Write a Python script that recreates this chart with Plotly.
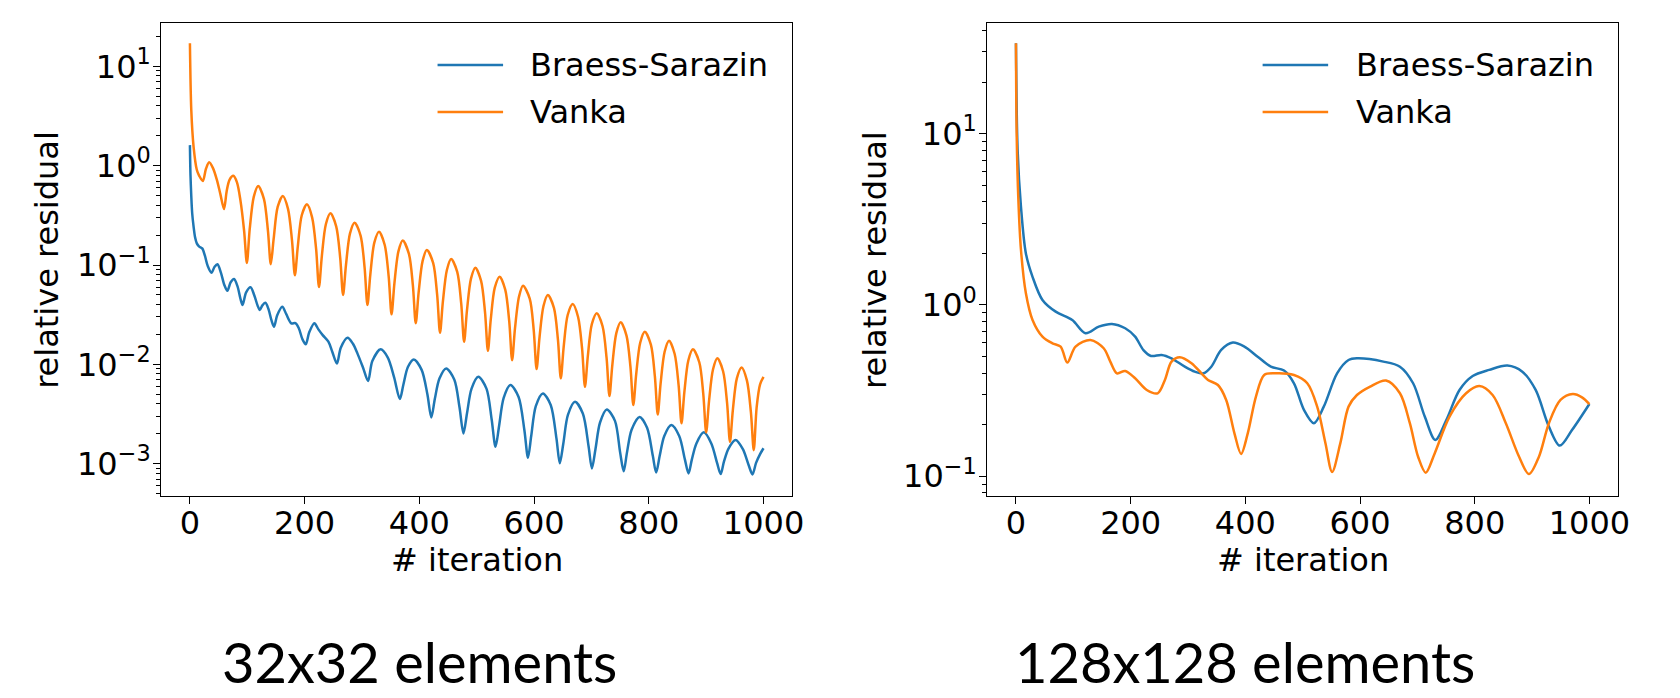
import plotly.graph_objects as go

# ---------------- data ----------------
series_names = ["Braess-Sarazin", "Vanka"]
series_colors = ["#1f77b4", "#ff7f0e"]
panel_titles = ["32x32 elements", "128x128 elements"]

# 32x32 elements : Braess-Sarazin
iter_bs_32 = [0, 1, 2.4, 4, 6.4, 9, 12, 16.2, 21.4, 26, 31, 37.6, 43, 48, 54, 60, 65.3, 71, 76.9, 83,
              88, 91.8, 98, 105.7, 112, 118, 121.9, 126, 131.6, 137, 142, 146.7, 152, 161, 168, 176.7,
              184, 190, 196, 202, 208, 217, 224, 231.5, 241.4, 248, 256.3, 263, 274.8, 284, 292, 302,
              310.6, 318, 332.5, 345, 356, 366,
              372, 380, 390.3, 404, 414, 420.8,
              427, 435, 446.8, 461, 470, 476.9,
              483, 491, 502.8, 517, 526, 532.8,
              539, 547, 558.8, 573, 583, 589.4,
              595, 603, 615.4, 629, 639, 644.8,
              651, 659, 671.3, 685, 695, 700.8,
              707, 715, 726.8, 741, 750, 756.2,
              762, 770, 783.9, 797, 807, 812.8,
              819, 827, 839.3, 853, 863, 869.3,
              875, 883, 895.9, 909, 919, 925.3,
              931, 939, 951.3, 964, 974, 980.8,
              987, 994, 1000]
res_bs_32 = [1.61, 0.8, 0.49, 0.33, 0.243, 0.19, 0.165, 0.153, 0.147, 0.125, 0.098, 0.0836, 0.096, 0.1016,
             0.084, 0.063, 0.055, 0.067, 0.0723, 0.061, 0.046, 0.0396, 0.053, 0.0596, 0.050, 0.039, 0.0352,
             0.039, 0.0417, 0.036, 0.028, 0.0239, 0.031, 0.038, 0.032, 0.0259, 0.026, 0.023, 0.018, 0.0159,
             0.021, 0.0259, 0.0225, 0.0197, 0.0169, 0.0135, 0.0102, 0.0147, 0.0185, 0.0162, 0.0129, 0.0092,
             0.0068, 0.0108, 0.01416, 0.0117, 0.0074, 0.00448,
             0.0062, 0.0094, 0.0112, 0.0088, 0.0050, 0.00292,
             0.0045, 0.0072, 0.0091, 0.0070, 0.0037, 0.00202,
             0.0032, 0.0057, 0.0075, 0.0057, 0.0028, 0.00148,
             0.0024, 0.0046, 0.0062, 0.0047, 0.0022, 0.00115,
             0.0019, 0.0038, 0.0051, 0.0039, 0.0018, 0.00101,
             0.0016, 0.0031, 0.0042, 0.0032, 0.0015, 0.000897,
             0.0014, 0.0026, 0.00352, 0.0027, 0.0013, 0.00084,
             0.0013, 0.0022, 0.00296, 0.0023, 0.0012, 0.000816,
             0.0012, 0.0019, 0.00245, 0.0019, 0.0011, 0.000798,
             0.0011, 0.0016, 0.00207, 0.0016, 0.00102, 0.000786,
             0.00105, 0.00142, 0.00173, 0.0014, 0.00097, 0.00078,
             0.00102, 0.00125, 0.00143]

# 32x32 elements : Vanka
iter_vk_32 = [0, 2.4, 6.4, 12, 16.2, 22.5, 28, 33.5, 40, 47, 53, 59.5, 64, 69, 75.7, 82, 88, 94.5, 99.3,
              104.3, 111.3, 119, 129, 136, 141,
              146, 153, 162, 171, 178, 183,
              188, 195, 204, 213, 220, 225,
              230, 237, 245, 255, 262, 267,
              272, 279, 287, 297.5, 304.5, 309.5,
              314.5, 321.5, 329.7, 339.5, 346.5, 351.5,
              356.5, 363.5, 371, 381.7, 388.7, 393.7,
              398.7, 405.7, 413, 424, 431, 436,
              441, 448, 455.4, 466, 473, 478,
              483, 490, 497.6, 507.5, 514.5, 519.5,
              524.5, 531.5, 540, 549.7, 556.7, 561.7,
              566.7, 573.7, 580.7, 592.4, 599.4, 604.4,
              609.4, 616.4, 624, 634.6, 641.6, 646.6,
              651.6, 658.6, 667.4, 676.7, 683.7, 688.7,
              693.7, 700.7, 709.4, 719.4, 726.4, 731.4,
              736.4, 743.4, 751, 761, 768, 773,
              778, 785, 793, 803.6, 810.6, 815.6,
              820.6, 827.6, 835.3, 845, 852, 857,
              862, 869, 876.9, 888, 895, 900,
              905, 912, 919.5, 929.5, 936.5, 941.5,
              946.5, 953.5, 961.7, 971, 978, 983,
              988, 994, 1000]
res_vk_32 = [17.1, 3.6, 1.55, 0.91, 0.79, 0.70, 0.93, 1.08, 0.95, 0.72, 0.52, 0.366, 0.55, 0.72, 0.79, 0.68,
             0.45, 0.22, 0.105,
             0.232, 0.485, 0.625, 0.463, 0.222, 0.102,
             0.184, 0.384, 0.495, 0.367, 0.176, 0.079,
             0.152, 0.317, 0.408, 0.302, 0.145, 0.060,
             0.123, 0.257, 0.331, 0.245, 0.118, 0.0499,
             0.0992, 0.207, 0.267, 0.198, 0.0948, 0.0396,
             0.0802, 0.168, 0.216, 0.160, 0.0767, 0.0319,
             0.0654, 0.137, 0.176, 0.130, 0.0625, 0.0259,
             0.0526, 0.110, 0.1416, 0.105, 0.0503, 0.0208,
             0.0427, 0.0892, 0.115, 0.0852, 0.0408, 0.0169,
             0.0349, 0.0729, 0.094, 0.0697, 0.0334, 0.0137,
             0.0283, 0.0591, 0.0762, 0.0565, 0.0271, 0.0110,
             0.0230, 0.0480, 0.0619, 0.0459, 0.0220, 0.00897,
             0.0185, 0.0387, 0.0499, 0.0370, 0.0177, 0.00723,
             0.0150, 0.0314, 0.0405, 0.0300, 0.0144, 0.00595,
             0.0121, 0.0254, 0.0327, 0.0242, 0.0116, 0.00480,
             0.00984, 0.0206, 0.0265, 0.0196, 0.00941, 0.00389,
             0.00791, 0.0165, 0.0213, 0.0158, 0.00756, 0.00313,
             0.00643, 0.0134, 0.0173, 0.0128, 0.00614, 0.00255,
             0.00526, 0.0110, 0.01416, 0.0105, 0.00503, 0.00207,
             0.00427, 0.00892, 0.0115, 0.00852, 0.00408, 0.00166,
             0.00345, 0.00722, 0.0093, 0.00689, 0.0033, 0.00137,
             0.0037, 0.0063, 0.0075]

# 128x128 elements : Braess-Sarazin
iter_bs_128 = [0, 2.9, 8.7, 17.3, 28.9, 46.2, 69.3, 98.2, 121.2, 144.4, 167.4, 190.5, 207.8, 222.3, 235.5,
               254, 271.3, 294.4, 311.7, 327.3, 340.6, 357.9, 378.2, 398.3, 421.5, 444.5, 467.5, 484.8,
               502.2, 519.5, 536.8, 560, 580, 594.6, 640.7, 669.6, 692.6, 712.9, 731.4, 750.5, 773.5,
               796.5, 825.4, 857.1, 883.1, 906.3, 929.4, 948.4, 969.7, 1000]
res_bs_128 = [33.7, 8.0, 3.75, 2.0, 1.46, 1.07, 0.914, 0.817, 0.684, 0.747, 0.775, 0.731, 0.653, 0.545,
              0.504, 0.511, 0.488, 0.436, 0.408, 0.399, 0.436, 0.546, 0.603, 0.571, 0.499, 0.436, 0.414,
              0.349, 0.244, 0.204, 0.255, 0.399, 0.477, 0.488, 0.467, 0.436, 0.349, 0.223, 0.163, 0.213,
              0.319, 0.385, 0.418, 0.443, 0.408, 0.319, 0.195, 0.151, 0.186, 0.264]

# 128x128 elements : Vanka
iter_vk_128 = [0, 1.2, 4.2, 8.7, 17.3, 28.9, 46.2, 63.6, 77.9, 89.5, 103.9, 129.9, 153, 164.5, 176.1,
               190.5, 207.8, 228.1, 247.1, 259.7, 271.3, 285.7, 306.1, 323.4, 334.9, 352.2, 366.6, 381,
               392.6, 404.2, 418.5, 432.9, 450.2, 484.8, 508, 525.3, 539.7, 551.3, 565.7, 580, 594.6,
               617.7, 645.4, 669.6, 686.9, 701.3, 714.6, 730.2, 756.1, 785, 808.1, 831.2, 854.3, 877.4,
               894.7, 912, 929.4, 949.6, 971, 987.1, 1000]
res_vk_128 = [33.7, 10, 4.1, 2.1, 1.17, 0.817, 0.653, 0.597, 0.571, 0.461, 0.571, 0.625, 0.559, 0.467,
              0.399, 0.412, 0.373, 0.319, 0.305, 0.365, 0.467, 0.495, 0.457, 0.399, 0.365, 0.341, 0.279,
              0.178, 0.135, 0.178, 0.292, 0.39, 0.399, 0.39, 0.349, 0.255, 0.156, 0.106, 0.156, 0.255,
              0.298, 0.334, 0.362, 0.305, 0.204, 0.13, 0.105, 0.136, 0.223, 0.305, 0.336, 0.298, 0.204,
              0.13, 0.103, 0.13, 0.204, 0.279, 0.302, 0.289, 0.264]

x_tickvals = [0, 200, 400, 600, 800, 1000]
x_ticktext = ["0", "200", "400", "600", "800", "1000"]
y_tickvals_32 = [1e-3, 1e-2, 1e-1, 1, 10]
y_ticktext_32 = ["10<sup>−3</sup>", "10<sup>−2</sup>", "10<sup>−1</sup>", "10<sup>0</sup>", "10<sup>1</sup>"]
y_tickvals_128 = [1e-1, 1, 10]
y_ticktext_128 = ["10<sup>−1</sup>", "10<sup>0</sup>", "10<sup>1</sup>"]
x_title = "# iteration"
y_title = "relative residual"

# ---------------- figure ----------------
W, H = 1680, 698
FONT = "DejaVu Sans"
FS = 32


def px_x(p):
    return p / W


def px_y(p):
    return 1 - p / H


minor_vals = [m * 10 ** k for k in range(-5, 3) for m in range(2, 10)]

fig = go.Figure()
panels = [
    ("x", "y", [(iter_bs_32, res_bs_32), (iter_vk_32, res_vk_32)], 0.85),
    ("x2", "y2", [(iter_bs_128, res_bs_128), (iter_vk_128, res_vk_128)], 0.9),
]
for xa, ya, pairs, smooth in panels:
    for (xs, ys), name, col in zip(pairs, series_names, series_colors):
        fig.add_trace(go.Scatter(x=xs, y=ys, mode="lines", name=name, xaxis=xa, yaxis=ya,
                                 line=dict(color=col, width=2.5, shape="spline", smoothing=smooth),
                                 showlegend=False, hoverinfo="skip"))

axis_common = dict(showline=True, mirror=True, linecolor="black", linewidth=1.2,
                   ticks="outside", ticklen=7, tickwidth=1.2, tickcolor="black",
                   showgrid=False, zeroline=False,
                   tickfont=dict(family=FONT, size=FS, color="black"))

xdom1 = [px_x(162.4), px_x(797.9)]
xdom2 = [px_x(994.4), px_x(1629.7)]
ydom = [px_y(496.3), px_y(23)]

fig.update_layout(
    width=W, height=H,
    margin=dict(l=0, r=0, t=0, b=0),
    paper_bgcolor="white", plot_bgcolor="white",
    font=dict(family=FONT, size=FS, color="black"),
    xaxis=dict(domain=xdom1, range=[-50, 1050], tickmode="array", tickvals=x_tickvals,
               ticktext=x_ticktext, anchor="y", ticklabelstandoff=-9, **axis_common),
    yaxis=dict(domain=ydom, type="log", range=[-3.328, 1.436], tickmode="array",
               tickvals=y_tickvals_32, ticktext=y_ticktext_32, anchor="x", ticklabelstandoff=-4,
               minor=dict(tickmode="array", tickvals=minor_vals, ticks="outside", ticklen=4,
                          tickwidth=1, tickcolor="black"),
               **axis_common),
    xaxis2=dict(domain=xdom2, range=[-50, 1050], tickmode="array", tickvals=x_tickvals,
                ticktext=x_ticktext, anchor="y2", ticklabelstandoff=-9, **axis_common),
    yaxis2=dict(domain=ydom, type="log", range=[-1.117, 1.646], tickmode="array",
                tickvals=y_tickvals_128, ticktext=y_ticktext_128, anchor="x2", ticklabelstandoff=-4,
                minor=dict(tickmode="array", tickvals=minor_vals, ticks="outside", ticklen=4,
                           tickwidth=1, tickcolor="black"),
                **axis_common),
)

ann = []
shapes = []
# axis titles
for xc in (47.5, 880.5):
    ann.append(dict(text=y_title, x=px_x(xc), y=px_y(259.7), xref="paper", yref="paper",
                    xanchor="center", yanchor="middle", textangle=-90, showarrow=False,
                    font=dict(family=FONT, size=FS, color="black")))
for xc in ((162.4 + 797.9) / 2, (994.4 + 1629.7) / 2):
    ann.append(dict(text=x_title, x=px_x(xc), y=px_y(559.6), xref="paper", yref="paper",
                    xanchor="center", yanchor="middle", showarrow=False,
                    font=dict(family=FONT, size=FS, color="black")))
# panel captions
for xc, t in zip((422.5, 1253.6), panel_titles):
    ann.append(dict(text=t, x=px_x(xc), y=px_y(661), xref="paper", yref="paper",
                    xanchor="center", yanchor="middle", showarrow=False,
                    font=dict(family="Lato", size=56, color="black")))
# legends (frameless, as in the reference)
for lx0, lx1, tx in ((440.7, 506.7, 531.7), (1271.7, 1337.7, 1363.3)):
    for row, (name, col) in enumerate(zip(series_names, series_colors)):
        yy = 65 + 47 * row
        shapes.append(dict(type="line", xref="paper", yref="paper", x0=px_x(lx0), x1=px_x(lx1),
                           y0=px_y(yy), y1=px_y(yy), line=dict(color=col, width=2.5)))
        ann.append(dict(text=name, x=px_x(tx), y=px_y(yy + 0.5), xref="paper", yref="paper",
                        xanchor="left", yanchor="middle", showarrow=False,
                        font=dict(family=FONT, size=FS, color="black")))

fig.update_layout(annotations=ann, shapes=shapes)
fig.write_html("out.html", config={"displayModeBar": False},
               post_script="document.body.style.margin='0px';document.body.style.overflow='hidden';")
